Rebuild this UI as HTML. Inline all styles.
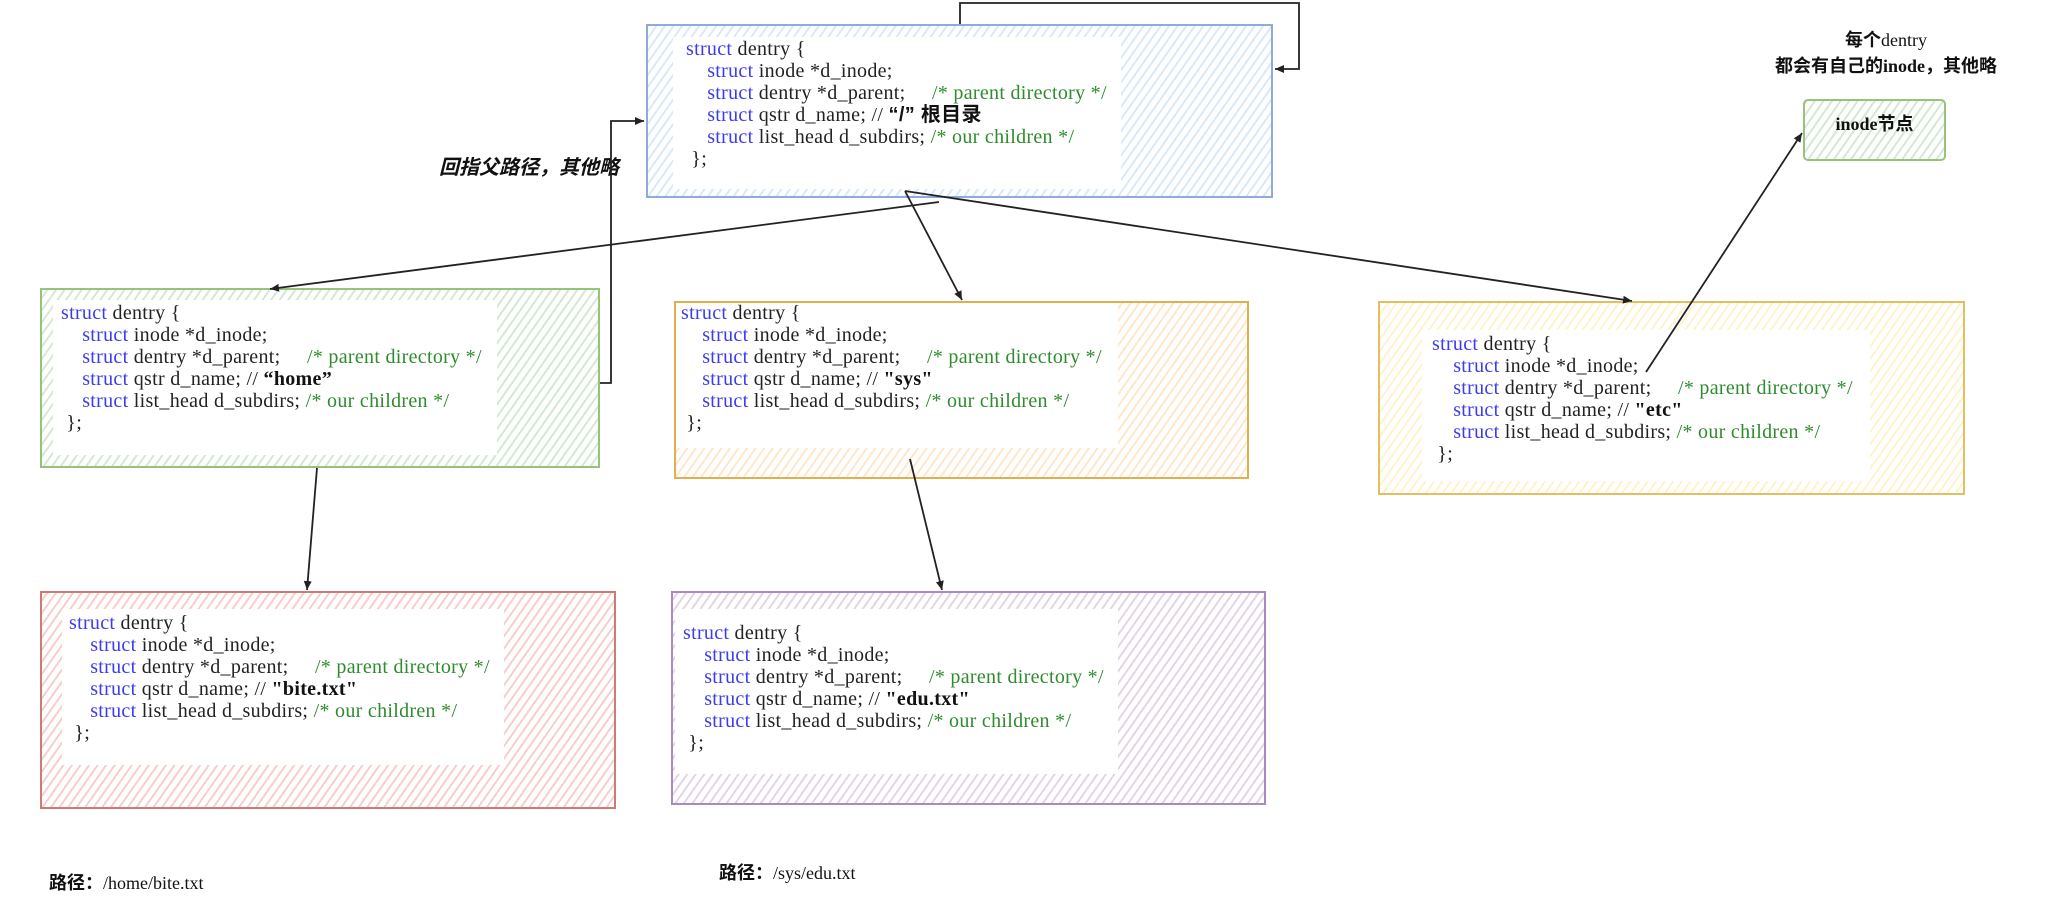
<!DOCTYPE html>
<html><head><meta charset="utf-8"><style>
body{margin:0;width:2068px;height:919px;background:#fff;position:relative;overflow:hidden;font-family:"Liberation Serif","Noto Serif CJK SC",serif;}
.box{position:absolute;box-sizing:border-box;border:2px solid;}
.w{position:absolute;background:#fff;}
.code{position:absolute;font-size:20px;letter-spacing:0.3px;line-height:22px;color:#222;white-space:pre;}
.k{color:#3b3bf0}.c{color:#2e8b2e}.b{font-weight:bold;color:#111}
.lbl{position:absolute;font-family:"Liberation Sans","Noto Sans CJK SC",sans-serif;font-weight:bold;color:#111;white-space:nowrap;}
</style></head><body>

<div class="box" style="left:646px;top:24px;width:627px;height:174px;border-color:#8faadc;background:repeating-linear-gradient(-55deg,#fff 0 5px,#dae8fc 5px 7px)"></div>
<div class="w" style="left:673px;top:37px;width:448px;height:152px"></div>
<div class="code" style="left:686px;top:38px"><span class="k">struct</span> dentry {
    <span class="k">struct</span> inode *d_inode;
    <span class="k">struct</span> dentry *d_parent;     <span class="c">/* parent directory */</span>
    <span class="k">struct</span> qstr d_name; // <span class="b" style="font-family:'Liberation Sans','Noto Sans CJK SC',sans-serif">“/” 根目录</span>
    <span class="k">struct</span> list_head d_subdirs; <span class="c">/* our children */</span>
 };</div>

<div class="box" style="left:40px;top:288px;width:560px;height:180px;border-color:#97c27a;background:repeating-linear-gradient(-55deg,#fff 0 5px,#d5e8d4 5px 7px)"></div>
<div class="w" style="left:53px;top:300px;width:444px;height:155px"></div>
<div class="code" style="left:61px;top:302px"><span class="k">struct</span> dentry {
    <span class="k">struct</span> inode *d_inode;
    <span class="k">struct</span> dentry *d_parent;     <span class="c">/* parent directory */</span>
    <span class="k">struct</span> qstr d_name; // <span class="b">“home”</span>
    <span class="k">struct</span> list_head d_subdirs; <span class="c">/* our children */</span>
 };</div>

<div class="box" style="left:674px;top:301px;width:575px;height:178px;border-color:#e0b050;background:repeating-linear-gradient(-55deg,#fff 0 5px,#ffe6cc 5px 7px)"></div>
<div class="w" style="left:676px;top:303px;width:442px;height:145px"></div>
<div class="code" style="left:681px;top:302px"><span class="k">struct</span> dentry {
    <span class="k">struct</span> inode *d_inode;
    <span class="k">struct</span> dentry *d_parent;     <span class="c">/* parent directory */</span>
    <span class="k">struct</span> qstr d_name; // <span class="b">"sys"</span>
    <span class="k">struct</span> list_head d_subdirs; <span class="c">/* our children */</span>
 };</div>

<div class="box" style="left:1378px;top:301px;width:587px;height:194px;border-color:#e0c060;background:repeating-linear-gradient(-55deg,#fff 0 5px,#fff2cc 5px 7px)"></div>
<div class="w" style="left:1422px;top:330px;width:448px;height:151px"></div>
<div class="code" style="left:1432px;top:333px"><span class="k">struct</span> dentry {
    <span class="k">struct</span> inode *d_inode;
    <span class="k">struct</span> dentry *d_parent;     <span class="c">/* parent directory */</span>
    <span class="k">struct</span> qstr d_name; // <span class="b">"etc"</span>
    <span class="k">struct</span> list_head d_subdirs; <span class="c">/* our children */</span>
 };</div>

<div class="box" style="left:40px;top:591px;width:576px;height:218px;border-color:#d07a78;background:repeating-linear-gradient(-55deg,#fff 0 5px,#f8cecc 5px 7px)"></div>
<div class="w" style="left:62px;top:609px;width:442px;height:156px"></div>
<div class="code" style="left:69px;top:612px"><span class="k">struct</span> dentry {
    <span class="k">struct</span> inode *d_inode;
    <span class="k">struct</span> dentry *d_parent;     <span class="c">/* parent directory */</span>
    <span class="k">struct</span> qstr d_name; // <span class="b">"bite.txt"</span>
    <span class="k">struct</span> list_head d_subdirs; <span class="c">/* our children */</span>
 };</div>

<div class="box" style="left:671px;top:591px;width:595px;height:214px;border-color:#a88bc0;background:repeating-linear-gradient(-55deg,#fff 0 5px,#e1d5e7 5px 7px)"></div>
<div class="w" style="left:675px;top:609px;width:443px;height:165px"></div>
<div class="code" style="left:683px;top:622px"><span class="k">struct</span> dentry {
    <span class="k">struct</span> inode *d_inode;
    <span class="k">struct</span> dentry *d_parent;     <span class="c">/* parent directory */</span>
    <span class="k">struct</span> qstr d_name; // <span class="b">"edu.txt"</span>
    <span class="k">struct</span> list_head d_subdirs; <span class="c">/* our children */</span>
 };</div>

<div class="box" style="left:1803px;top:99px;width:143px;height:62px;border-color:#97c27a;border-radius:5px;background:repeating-linear-gradient(-55deg,#fff 0 5px,#d5e8d4 5px 7px)"></div>
<div class="lbl" style="left:1803px;top:112px;width:143px;text-align:center;font-size:18px;line-height:24px"><span style="font-family:'Liberation Serif',serif">inode</span>节点</div>

<div class="lbl" style="left:1740px;top:27px;width:292px;text-align:center;font-size:18px;line-height:26px">每个<span style="font-family:'Liberation Serif',serif;font-weight:normal">dentry</span><br>都会有自己的<span style="font-family:'Liberation Serif',serif">inode</span>，其他略</div>
<div class="lbl" style="left:439px;top:151px;font-size:20px;font-style:italic">回指父路径，其他略</div>
<div class="lbl" style="left:49px;top:869px;font-size:18px">路径：<span style="font-family:'Liberation Serif',serif;font-weight:normal">/home/bite.txt</span></div>
<div class="lbl" style="left:719px;top:859px;font-size:18px">路径：<span style="font-family:'Liberation Serif',serif;font-weight:normal">/sys/edu.txt</span></div>

<svg width="2068" height="919" style="position:absolute;left:0;top:0" fill="none" stroke="#222" stroke-width="1.8">
<defs><marker id="a" markerWidth="10" markerHeight="10" refX="9" refY="5" orient="auto" markerUnits="userSpaceOnUse"><path d="M0,1 L9,5 L0,9 Z" fill="#222" stroke="none"/></marker></defs>
<polyline points="960,24 960,3 1299,3 1299,69 1275,69" marker-end="url(#a)"/>
<polyline points="600,383 611,383 611,121 644,121" marker-end="url(#a)"/>
<line x1="939" y1="202" x2="270" y2="289" marker-end="url(#a)"/>
<line x1="905" y1="191" x2="962" y2="300" marker-end="url(#a)"/>
<line x1="905" y1="191" x2="1632" y2="301" marker-end="url(#a)"/>
<line x1="317" y1="468" x2="307" y2="590" marker-end="url(#a)"/>
<line x1="910" y1="459" x2="942" y2="590" marker-end="url(#a)"/>
<line x1="1646" y1="372" x2="1802" y2="133" marker-end="url(#a)"/>
</svg>
</body></html>
